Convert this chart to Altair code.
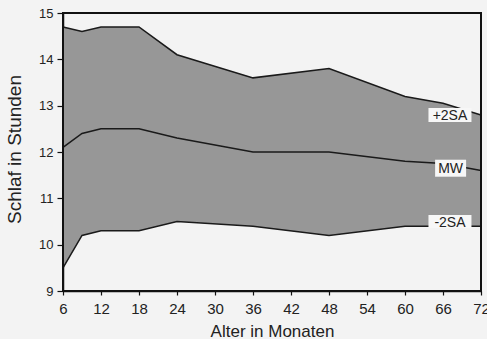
import altair as alt
import pandas as pd

# ---- data ----
months = [6, 9, 12, 18, 24, 36, 48, 60, 66, 72]
upper_2sa = [14.7, 14.6, 14.7, 14.7, 14.1, 13.6, 13.8, 13.2, 13.05, 12.8]
mean_mw = [12.1, 12.4, 12.5, 12.5, 12.3, 12.0, 12.0, 11.8, 11.75, 11.6]
lower_2sa = [9.5, 10.2, 10.3, 10.3, 10.5, 10.4, 10.2, 10.4, 10.4, 10.4]

x_ticks = list(range(6, 73, 6))
y_ticks = [9, 10, 11, 12, 13, 14, 15]
x_domain = [6, 72]
y_domain = [9, 15]

label_text = ["+2SA", "MW", "-2SA"]
label_month = [67.1, 67.2, 67.1]
label_value = [12.8, 11.65, 10.5]

FONT = "Liberation Sans"
BG = "#f3f3f3"
INK = "#111111"

df = pd.DataFrame({"Monat": months, "plus": upper_2sa, "mw": mean_mw, "minus": lower_2sa})
long = pd.concat([
    pd.DataFrame({"Monat": months, "Wert": upper_2sa, "Reihe": "+2SA"}),
    pd.DataFrame({"Monat": months, "Wert": mean_mw, "Reihe": "MW"}),
    pd.DataFrame({"Monat": months, "Wert": lower_2sa, "Reihe": "-2SA"}),
])
labels = pd.DataFrame({"Label": label_text, "Monat": label_month, "Wert": label_value})
# plot frame spanning the scale domains
frame_df = pd.DataFrame({"x0": [x_domain[0]], "x1": [x_domain[1]],
                         "y0": [y_domain[0]], "y1": [y_domain[1]]})

xscale = alt.Scale(domain=x_domain, nice=False, zero=False)
yscale = alt.Scale(domain=y_domain, nice=False, zero=False)

xaxis = alt.Axis(values=x_ticks, title="Alter in Monaten", grid=False, labelOverlap=False,
                 labelFlush=False,
                 labelFontSize=15, labelFont=FONT, labelColor="#222", labelPadding=6,
                 tickSize=4, tickColor=INK, tickWidth=1.2,
                 domainColor=INK, domainWidth=1.5,
                 titleFont=FONT, titleFontSize=17, titleFontWeight="normal", titleColor="#222",
                 titleY=45, titleBaseline="alphabetic")
yaxis = alt.Axis(values=y_ticks, title="Schlaf in Stunden", grid=False, labelOverlap=False,
                 labelFlush=False,
                 labelFontSize=13, labelFont=FONT, labelColor="#222", labelPadding=4,
                 tickSize=6, tickColor=INK, tickWidth=1.2,
                 domainColor=INK, domainWidth=1.5,
                 titleFont=FONT, titleFontSize=19, titleFontWeight="normal", titleColor="#222",
                 titleX=-49, titleY=136, titleBaseline="middle", titleAlign="center", titleAngle=270)


def X(field):
    return alt.X(field, scale=xscale, axis=xaxis, title="Alter in Monaten")


def Y(field):
    return alt.Y(field, scale=yscale, axis=yaxis, title="Schlaf in Stunden")


band = alt.Chart(df).mark_area(color="#979797", opacity=1).encode(
    x=X("Monat:Q"), y=Y("plus:Q"), y2="minus:Q",
)

lines = alt.Chart(long).mark_line(color="#1a1a1a", strokeWidth=1.5).encode(
    x=X("Monat:Q"), y=Y("Wert:Q"), detail="Reihe:N",
)

s = 22.0
paths = [
    f"M-{21.5/s},-{7/s}L{21.5/s},-{7/s}L{21.5/s},{7/s}L-{21.5/s},{7/s}Z",
    f"M-{15.5/s},-{8.5/s}L{15.5/s},-{8.5/s}L{15.5/s},{8.5/s}L-{15.5/s},{8.5/s}Z",
    f"M-{21.5/s},-{6.5/s}L{21.5/s},-{6.5/s}L{21.5/s},{6.5/s}L-{21.5/s},{6.5/s}Z",
]
boxes = alt.Chart(labels).mark_point(filled=True, fill="#f7f7f7", opacity=1, strokeWidth=0,
                                     size=(2 * s) ** 2).encode(
    x=X("Monat:Q"), y=Y("Wert:Q"),
    shape=alt.Shape("Label:N", scale=alt.Scale(domain=label_text, range=paths), legend=None),
)

texts = alt.Chart(labels).mark_text(font=FONT, fontSize=14, color="#222",
                                    align="center", baseline="middle", dy=1).encode(
    x=X("Monat:Q"), y=Y("Wert:Q"), text="Label:N",
)

frame = alt.Chart(frame_df).mark_rect(fillOpacity=0, stroke=INK, strokeWidth=2,
                                      clip=False).encode(
    x=X("x0:Q"), x2="x1:Q", y=Y("y0:Q"), y2="y1:Q",
)

chart = alt.layer(band, lines, boxes, texts, frame).properties(
    width=418, height=278,
    autosize=alt.AutoSizeParams(type="none"),
    padding={"left": 63, "top": 13, "right": 6, "bottom": 48},
    background=BG,
).configure_view(
    stroke=INK, strokeWidth=1.5, fill=BG
).configure_axis(
    labelOverlap=False, labelFlush=False
)

chart.save("out.html", embed_options={"renderer": "svg", "actions": False})
